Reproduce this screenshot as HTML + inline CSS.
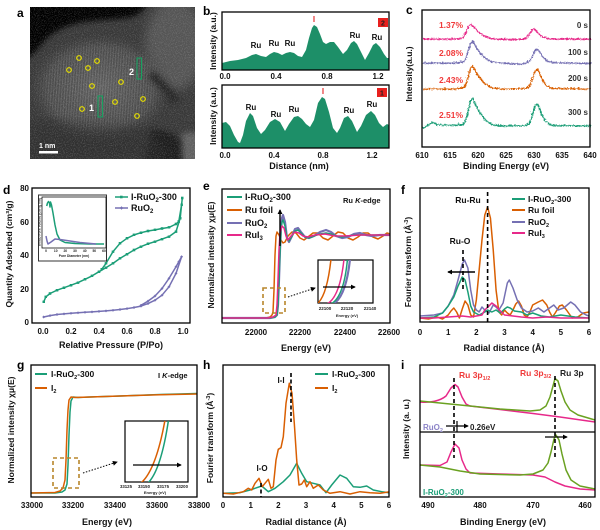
<!DOCTYPE html>
<html><head><meta charset="utf-8"><style>
html,body{margin:0;padding:0;background:#fff;}
svg{display:block;font-family:"Liberation Sans",Arial,sans-serif;font-weight:bold;}
.ax{fill:none;stroke:#000;stroke-width:1.3;}
.tk{font-size:8px;fill:#111;}
.tt{font-size:9px;fill:#111;}
.lt{font-size:12px;fill:#000;}
.ln{fill:none;stroke-width:1.5;stroke-linejoin:round;}
.ns{vector-effect:non-scaling-stroke;}
</style></head><body>
<svg width="600" height="530" viewBox="0 0 600 530" xmlns="http://www.w3.org/2000/svg">
<defs>
 <radialGradient id="gb" cx="0.5" cy="0.5" r="0.5"><stop offset="0" stop-color="#5c5c5c"/><stop offset="0.75" stop-color="#4e4e4e" stop-opacity="0.7"/><stop offset="1" stop-color="#3a3a3a" stop-opacity="0"/></radialGradient>
 <radialGradient id="gm" cx="0.5" cy="0.5" r="0.5"><stop offset="0" stop-color="#fff"/><stop offset="0.7" stop-color="#fff" stop-opacity="0.8"/><stop offset="1" stop-color="#fff" stop-opacity="0"/></radialGradient>
 <mask id="lm"><ellipse cx="100" cy="88" rx="72" ry="55" fill="url(#gm)"/></mask>
 <pattern id="lat" width="2.7" height="4" patternUnits="userSpaceOnUse" patternTransform="rotate(4)"><rect width="1.1" height="4" fill="#bdbdbd"/></pattern>
 <filter id="blur3"><feGaussianBlur stdDeviation="3"/></filter>
 <filter id="blur5"><feGaussianBlur stdDeviation="5"/></filter>
 <filter id="noise" x="0" y="0" width="1" height="1"><feTurbulence type="fractalNoise" baseFrequency="0.9" numOctaves="2" seed="3"/><feColorMatrix type="matrix" values="0 0 0 0 0.55  0 0 0 0 0.55  0 0 0 0 0.55  0 0 0 1.5 -0.7"/></filter>
 <filter id="jit" x="-5%" y="-30%" width="110%" height="160%"><feTurbulence type="turbulence" baseFrequency="0.45" numOctaves="1" seed="7" result="t"/><feDisplacementMap in="SourceGraphic" in2="t" scale="3" xChannelSelector="R" yChannelSelector="G"/></filter>
 <clipPath id="ca"><rect x="30" y="7" width="165" height="152"/></clipPath>
 <clipPath id="cf"><rect x="420" y="188" width="169" height="134"/></clipPath>
 <clipPath id="ch"><rect x="223" y="365" width="166" height="132"/></clipPath>
 <clipPath id="cei"><rect x="318" y="260" width="55" height="43"/></clipPath>
 <clipPath id="cgi"><rect x="125" y="421" width="63" height="61"/></clipPath>
 <marker id="mg" viewBox="0 0 4 4" refX="2" refY="2" markerWidth="2.6" markerHeight="2.6" markerUnits="userSpaceOnUse"><rect width="4" height="4" fill="#1b9e77"/></marker>
 <marker id="mp" viewBox="0 0 4 4" refX="2" refY="2" markerWidth="3" markerHeight="3" markerUnits="userSpaceOnUse"><path d="M2,0 L4,2 L2,4 L0,2Z" fill="#7570b3"/></marker>
 <marker id="ah" viewBox="0 0 6 6" refX="5" refY="3" markerWidth="5" markerHeight="5" markerUnits="userSpaceOnUse" orient="auto"><path d="M0,0 L6,3 L0,6Z" fill="#000"/></marker>
</defs>

<!-- ================= Panel a ================= -->
<text class="lt" x="17" y="17">a</text>
<g clip-path="url(#ca)">
 <rect x="30" y="7" width="165" height="152" fill="#383838"/>
 <ellipse cx="175" cy="45" rx="30" ry="45" fill="#545454" filter="url(#blur5)"/>
 <ellipse cx="190" cy="148" rx="14" ry="16" fill="#606060" filter="url(#blur3)"/>
 <ellipse cx="100" cy="88" rx="72" ry="55" fill="url(#gb)"/>
 <rect x="25" y="7" width="175" height="155" fill="url(#lat)" opacity="0.22" mask="url(#lm)"/>
 <path d="M152,70 C162,78 172,88 180,100 L172,104 C164,92 156,84 148,78Z" fill="#262626" filter="url(#blur3)"/>
 <path d="M20,0 L148,0 C145,10 138,16 128,18 C110,20 90,20 75,24 C60,28 50,34 42,44 C36,52 30,58 20,62 Z" fill="#050505" filter="url(#blur3)"/>
 <path d="M150,130 C160,128 172,132 182,140 L182,165 L145,165Z" fill="#1e1e1e" filter="url(#blur3)"/>
 <path d="M25,122 C60,118 95,128 130,126 C150,125 160,135 170,165 L25,165Z" fill="#2c2c2c" opacity="0.5" filter="url(#blur5)"/>
 <rect x="30" y="7" width="165" height="152" filter="url(#noise)" opacity="0.55"/>
 <g fill="none" stroke="#e8e000" stroke-width="1.2">
  <circle cx="79" cy="58" r="2.3"/><circle cx="97" cy="61" r="2.3"/><circle cx="69" cy="70" r="2.3"/>
  <circle cx="88" cy="68" r="2.3"/><circle cx="121" cy="82" r="2.3"/><circle cx="92" cy="86" r="2.3"/>
  <circle cx="143" cy="99" r="2.3"/><circle cx="115" cy="102" r="2.3"/><circle cx="82" cy="109" r="2.3"/>
  <circle cx="137" cy="116" r="2.3"/>
 </g>
 <rect x="137" y="58" width="4.5" height="21" fill="none" stroke="#18a060" stroke-width="1.1"/>
 <rect x="98" y="96" width="4.5" height="21" fill="none" stroke="#18a060" stroke-width="1.1"/>
 <text x="129" y="75" font-size="9" fill="#fff">2</text>
 <text x="89" y="111" font-size="9" fill="#fff">1</text>
 <text x="39" y="148" font-size="7" fill="#fff">1 nm</text>
 <rect x="39" y="151" width="19" height="2.5" fill="#fff"/>
</g>

<!-- ================= Panel b ================= -->
<text class="lt" x="203" y="15">b</text>
<path fill="#1d8f68" d="M222,70 L222,63 L230,61 L238,60 L246,58 L252,55 L256,54 L261,56 L266,57 L270,54 L274,52 L278,53 L282,55 L286,53 L290,52 L294,53 L298,56 L302,57 L306,50 L309,38 L312,28 L314,25 L317,27 L320,34 L323,42 L326,44 L330,42 L334,42 L338,47 L343,54 L347,50 L351,43 L354,41 L357,44 L361,52 L365,60 L369,53 L373,45 L376,43 L380,47 L384,54 L387,58 L389,58 L389,70 Z"/>
<path fill="#1d8f68" d="M222,148 L222,123 L226,122 L230,126 L234,135 L238,142 L240,143 L243,135 L246,121 L250,113 L253,116 L257,128 L261,134 L265,130 L270,122 L275,119 L280,122 L285,131 L289,124 L294,117 L298,116 L302,119 L306,124 L310,127 L314,120 L318,103 L322,97 L325,99 L329,112 L333,128 L337,133 L340,128 L344,118 L348,116 L352,121 L357,132 L361,126 L366,115 L371,111 L375,115 L379,123 L383,127 L387,124 L389,125 L389,148 Z"/>
<rect class="ax" x="222" y="12" width="167" height="58"/>
<rect class="ax" x="222" y="85" width="167" height="63"/>
<g font-size="8" fill="#111" text-anchor="middle">
 <text x="256" y="48">Ru</text><text x="274" y="46">Ru</text><text x="290" y="46">Ru</text>
 <text x="355" y="38">Ru</text><text x="377" y="40">Ru</text>
 <text x="251" y="110">Ru</text><text x="276" y="117">Ru</text><text x="294" y="112">Ru</text>
 <text x="349" y="113">Ru</text><text x="372" y="107">Ru</text>
 <text x="314" y="22" fill="#e53030">I</text><text x="323" y="94" fill="#e53030">I</text>
</g>
<rect x="378" y="18" width="10" height="9" fill="#e8201e"/><text x="383" y="25.5" font-size="7" text-anchor="middle" fill="#222">2</text>
<rect x="377" y="88" width="10" height="9" fill="#e8201e"/><text x="382" y="95.5" font-size="7" text-anchor="middle" fill="#222">1</text>
<g class="tk" text-anchor="middle">
 <text x="225" y="79">0.0</text><text x="276" y="79">0.4</text><text x="327" y="79">0.8</text><text x="378" y="79">1.2</text>
 <text x="225" y="158">0.0</text><text x="274" y="158">0.4</text><text x="323" y="158">0.8</text><text x="372" y="158">1.2</text>
</g>
<text class="tt" x="299" y="169" text-anchor="middle">Distance (nm)</text>
<text font-size="8.5" fill="#111" transform="rotate(-90 216 41)" x="216" y="41" text-anchor="middle">Intensity (a.u.)</text>
<text font-size="8.5" fill="#111" transform="rotate(-90 216 116)" x="216" y="116" text-anchor="middle">Intensity (a.u.)</text>

<!-- ================= Panel c ================= -->
<text class="lt" x="406" y="14">c</text>
<g class="ln" stroke-width="1.3" filter="url(#jit)">
 <polyline stroke="#e7298a" points="422,38 440,38 455,38 460,37.2 462,36.5 464,33.5 466,29 468,24.5 470,23 472,25.3 474,27.5 476,29.8 479,32 482,34.3 486,36.2 490,37.2 494,38 510,38.5 521,38.3 525,37 527,35 529,32 531,29 533,28 535,29.5 537,32 539,34 542,36 545,37 549,37.7 560,38 590,38"/>
 <polyline stroke="#7570b3" points="422,62 455,62 461.5,61 463.5,59.8 465.5,55.4 467.5,48.8 469.5,42.2 471.5,40 473.5,43.3 475.5,46.6 477.5,49.9 480.5,53.2 483.5,56.5 487.5,59.4 491.5,60.9 500,62 520,63 524,62.5 528,60.6 530,57.8 532,53.6 534,49.4 536,48 538,50.1 540,53.6 542,56.4 545,59.2 548,60.6 552,61.6 590,62.5"/>
 <polyline stroke="#d95f02" points="422,88 455,88 461.5,86.9 463.5,85.7 465.5,81.1 467.5,74.2 469.5,67.3 471.5,65 473.5,68.5 475.5,71.9 477.5,75.4 480.5,78.8 483.5,82.3 487.5,85.2 491.5,86.9 500,88 524,87.6 528,86 530,82 532,76 534,70 536,68 538,71 540,76 542,80 545,84 548,86 552,87.4 590,88"/>
 <polyline stroke="#1b9e77" points="422,127 432,121 436,124 455,124 461.5,123.6 463.5,122.2 465.5,116.6 467.5,108.2 469.5,99.8 471.5,97 473.5,101.2 475.5,105.4 477.5,109.6 480.5,113.8 483.5,118 487.5,121.6 491.5,123.6 500,125 524,124.6 528,122.8 530,118.4 532,111.8 534,105.2 536,103 538,106.3 540,111.8 542,116.2 545,120.6 548,122.8 552,124.4 590,125"/>
</g>
<rect class="ax" x="422" y="10" width="168" height="137"/>
<g font-size="8.5" fill="#f03a3a" text-anchor="middle">
 <text x="451" y="28">1.37%</text><text x="451" y="56">2.08%</text><text x="451" y="83">2.43%</text><text x="451" y="118">2.51%</text>
</g>
<g font-size="8" fill="#333" text-anchor="end">
 <text x="588" y="28">0 s</text><text x="588" y="55">100 s</text><text x="588" y="81">200 s</text><text x="588" y="115">300 s</text>
</g>
<g class="tk" text-anchor="middle">
 <text x="422" y="158">610</text><text x="450" y="158">615</text><text x="478" y="158">620</text><text x="506" y="158">625</text><text x="534" y="158">630</text><text x="562" y="158">635</text><text x="590" y="158">640</text>
</g>
<text class="tt" x="506" y="169" text-anchor="middle">Binding Energy (eV)</text>
<text font-size="8.5" fill="#111" transform="rotate(-90 412 74)" x="412" y="74" text-anchor="middle">Intensity(a.u.)</text>

<!-- ================= Panel d ================= -->
<text class="lt" x="3" y="194">d</text>
<rect class="ax" x="32" y="188" width="158" height="135"/>
<polyline class="ln" stroke="#1b9e77" stroke-width="1.4" marker-start="url(#mg)" marker-mid="url(#mg)" marker-end="url(#mg)" points="43.7,301.9 45.8,296.9 50,293.5 57,290.2 64,287.7 71,285.2 78,282.6 85,279.3 92,275.9 99,271.7 106,267.6 113,263.4 120,258.4 127,254.2 134,250 141,246.6 148,243.8 155,241.6 162,239.1 169,236.6 176,231.6 180.2,218.2 182.3,198 181.6,204.8 178.8,221.5 176,224 169,227.4 162,228.5 155,229.9 148,231 141,232.7 134,234.9 127,238.3 120,243.3 113,251.6 106,263.4 101.8,269.2"/>
<polyline class="ln" stroke="#7570b3" stroke-width="1.4" marker-start="url(#mp)" marker-mid="url(#mp)" marker-end="url(#mp)" points="43.7,317 50,315.6 57,314.5 64,313.9 71,313.3 78,312.8 85,312.3 92,311.9 99,311.4 106,310.9 113,310.3 120,309.5 127,308.6 134,307.5 141,306.1 148,303.6 155,300.2 162,295.2 169,286.8 176,273.4 181.6,256.7 178.8,261.7 176,266.7 169,278.4 162,288.5 155,296 148,301.1 141,305.3"/>
<line x1="115" y1="197" x2="128" y2="197" stroke="#1b9e77" stroke-width="1.5"/><rect x="120" y="195.7" width="2.6" height="2.6" fill="#1b9e77"/>
<text x="131" y="200" font-size="9" fill="#111">I-RuO<tspan font-size="6" dy="2">2</tspan><tspan dy="-2">-300</tspan></text>
<line x1="115" y1="208" x2="128" y2="208" stroke="#7570b3" stroke-width="1.5"/><path d="M121.5,206.3 L123.2,208 L121.5,209.7 L119.8,208Z" fill="#7570b3"/>
<text x="131" y="211" font-size="9" fill="#111">RuO<tspan font-size="6" dy="2">2</tspan></text>
<!-- inset -->
<rect x="38.5" y="195" width="68" height="66" fill="#fff" stroke="#333" stroke-width="1"/>
<rect x="42" y="197" width="64" height="51" fill="none" stroke="#111" stroke-width="0.8"/>
<polyline class="ln" stroke="#1b9e77" stroke-width="1.1" points="46.7,206 47.5,203 48.5,201.5 49.5,203 50,207 50.5,202 51.5,205 53,213 55,225 57,234 60,240 65,242.5 75,243.5 90,244 104,244"/>
<polyline class="ln" stroke="#7570b3" stroke-width="1.1" points="46,236 47,241 48,244 51,242 55,239 60,239.5 70,241 80,242.5 96,244"/>
<g font-size="3.3" fill="#222" text-anchor="middle">
 <text x="46" y="252">0</text><text x="55.7" y="252">10</text><text x="65.3" y="252">20</text><text x="75" y="252">30</text><text x="84.7" y="252">40</text><text x="94.3" y="252">50</text><text x="104" y="252">60</text>
 <text x="74" y="257">Pore Diameter (nm)</text>
 <text transform="rotate(-90 40.3 222)" x="40.3" y="222">dV/dD Pore Volume (cm³/g nm)</text>
</g>
<g class="tk" text-anchor="end">
 <text x="29" y="191">80</text><text x="29" y="225">60</text><text x="29" y="258">40</text><text x="29" y="292">20</text><text x="29" y="325">0</text>
</g>
<g class="tk" text-anchor="middle">
 <text x="43" y="334">0.0</text><text x="71" y="334">0.2</text><text x="99" y="334">0.4</text><text x="127" y="334">0.6</text><text x="155" y="334">0.8</text><text x="183" y="334">1.0</text>
</g>
<text class="tt" x="111" y="348" text-anchor="middle">Relative Pressure (P/Po)</text>
<text font-size="8.5" fill="#111" transform="rotate(-90 12 254)" x="12" y="254" text-anchor="middle">Quantity Adsorbed (cm³/g)</text>

<!-- ================= Panel e ================= -->
<text class="lt" x="203" y="190">e</text>
<g class="ln">
 <path stroke="#d95f02" d="M222,318 L266,318 L270,317 L272,315 L273,312 L274,290 L275,255 L276,236 L277,232 L279,235 L281,240 L283,243 L285,242 L288,236 L292,232 L296,233 L300,238 L304,240 L308,237 L313,233 L318,233 L323,238 L328,240 L333,236 L338,232 L343,233 L348,238 L353,240 L358,237 L363,233 L368,233 L373,237 L378,239 L383,236 L387,233 L390,234"/>
 <path stroke="#7570b3" stroke-width="2.2" d="M222,318 L270,318 L275,317 L277,315 L278,305 L279,280 L280,250 L281,228 L282,218 L283,215 L285,222 L287,238 L289,242 L292,236 L295,229 L298,228 L301,232 L305,237 L309,238 L314,236 L320,232 L326,230 L331,232 L336,236 L342,238 L348,237 L354,234 L360,233 L366,235 L372,236 L380,235 L390,235"/>
 <path stroke="#1b9e77" d="M222,318 L270,318 L275,317 L277,315 L278,305 L279,280 L280,252 L281,231 L282,222 L283,220 L285,226 L287,238 L289,241 L292,236 L295,231 L298,230 L301,233 L305,237 L309,238 L314,236 L320,234 L326,233 L331,234 L336,236 L342,237 L348,236 L354,235 L366,235 L390,235"/>
 <path stroke="#e7298a" d="M222,318 L268,318 L273,317 L276,315 L277,305 L278,280 L279,250 L280,233 L282,226 L284,228 L286,236 L288,240 L291,236 L295,232 L299,233 L303,236 L308,237 L315,235 L325,234 L335,236 L345,236 L360,235 L375,235 L390,235"/>
</g>
<line x1="280" y1="246" x2="280" y2="210" stroke="#000" stroke-width="1.4" marker-end="url(#ah)"/>
<rect x="263" y="288" width="22" height="25" fill="none" stroke="#b8862b" stroke-width="1.6" stroke-dasharray="4,3"/>
<line x1="288" y1="297" x2="315" y2="288" stroke="#000" stroke-width="1" stroke-dasharray="1.5,1.5" marker-end="url(#ah)"/>
<rect x="318" y="260" width="55" height="43" fill="#fff" stroke="#000" stroke-width="1.2"/>
<g clip-path="url(#cei)" class="ln">
 <path stroke="#d95f02" d="M317,304 Q327,296 331,259"/>
 <path stroke="#e7298a" d="M327,304 Q340,297 344,259"/>
 <path stroke="#7570b3" stroke-width="2.2" d="M333,304 Q346,297 350,259"/>
 <path stroke="#1b9e77" d="M331,304 Q344,297 347.5,259"/>
</g>
<line x1="323" y1="287" x2="355" y2="287" stroke="#000" stroke-width="1.3" marker-end="url(#ah)"/>
<g font-size="4.5" fill="#222" text-anchor="middle">
 <text x="325" y="310">22100</text><text x="347" y="310">22120</text><text x="370" y="310">22140</text>
 <text x="347" y="317" font-size="4">Energy (eV)</text>
</g>
<rect class="ax" x="222" y="189" width="168" height="134"/>
<line x1="227" y1="197" x2="242" y2="197" stroke="#1b9e77" stroke-width="2"/>
<line x1="227" y1="210" x2="242" y2="210" stroke="#d95f02" stroke-width="2"/>
<line x1="227" y1="223" x2="242" y2="223" stroke="#7570b3" stroke-width="2"/>
<line x1="227" y1="235" x2="242" y2="235" stroke="#e7298a" stroke-width="2"/>
<g font-size="9" fill="#111">
 <text x="245" y="200">I-RuO<tspan font-size="6" dy="2">2</tspan><tspan dy="-2">-300</tspan></text>
 <text x="245" y="213">Ru foil</text>
 <text x="245" y="226">RuO<tspan font-size="6" dy="2">2</tspan></text>
 <text x="245" y="238">RuI<tspan font-size="6" dy="2">3</tspan></text>
</g>
<text x="343" y="203" font-size="7.5" fill="#111">Ru <tspan font-style="italic">K</tspan>-edge</text>
<g class="tk" text-anchor="middle">
 <text x="256" y="335">22000</text><text x="300" y="335">22200</text><text x="345" y="335">22400</text><text x="389" y="335">22600</text>
</g>
<text class="tt" x="306" y="351" text-anchor="middle">Energy (eV)</text>
<text font-size="8.5" fill="#111" transform="rotate(-90 214 255)" x="214" y="255" text-anchor="middle">Normalized intensity χμ(E)</text>

<!-- ================= Panel f ================= -->
<text class="lt" x="401" y="194">f</text>
<g clip-path="url(#cf)">
<g transform="translate(420 0) scale(28.17 1)" class="ln">
 <path class="ns" stroke="#d95f02" d="M0,318 L0.3,319 L0.6,317 L0.8,319 L1.0,315 L1.1,311 L1.2,308 L1.3,312 L1.4,318 L1.5,309 L1.6,301 L1.7,305 L1.8,315 L1.9,317 L2.0,300 L2.1,270 L2.2,240 L2.3,215 L2.4,207 L2.5,218 L2.6,250 L2.7,290 L2.8,312 L2.9,315 L3.0,310 L3.1,313 L3.2,315 L3.3,310 L3.4,304 L3.5,301 L3.6,306 L3.7,315 L3.8,317 L3.9,312 L4.0,305 L4.2,302 L4.35,300 L4.5,305 L4.6,312 L4.7,317 L4.8,313 L4.95,306 L5.05,305 L5.2,310 L5.4,318 L5.6,317 L5.8,313 L6.0,312"/>
 <path class="ns" stroke="#7570b3" d="M0,316 L0.5,315 L0.8,313 L1.0,306 L1.2,295 L1.35,280 L1.5,264 L1.58,260 L1.7,268 L1.8,290 L1.9,305 L2.0,310 L2.1,312 L2.2,307 L2.3,310 L2.45,313 L2.6,305 L2.7,307 L2.8,310 L2.95,303 L3.1,283 L3.17,280 L3.3,288 L3.45,300 L3.6,308 L3.8,312 L4.0,311 L4.2,308 L4.4,312 L4.6,308 L4.75,305 L4.9,310 L5.1,308 L5.35,302 L5.5,305 L5.7,312 L5.9,315 L6.0,316"/>
 <path class="ns" stroke="#1b9e77" d="M0,318 L0.5,317 L0.8,313 L1.0,306 L1.2,297 L1.35,286 L1.5,277 L1.6,280 L1.7,292 L1.8,306 L1.9,312 L2.1,315 L2.3,312 L2.4,310 L2.55,312 L2.7,310 L2.85,313 L3.0,309 L3.1,307 L3.2,308 L3.35,311 L3.6,312 L3.8,315 L4.0,313 L4.3,316 L4.6,317 L5.0,315 L5.5,317 L6.0,318"/>
 <path class="ns" stroke="#e7298a" d="M0,318 L0.5,318 L1.0,317 L1.5,316 L1.8,317 L2.0,316 L2.2,315 L2.3,310 L2.45,306 L2.55,303 L2.7,306 L2.85,311 L3.0,315 L3.3,316 L3.6,317 L4.0,318 L4.5,317 L5,318 L6,318"/>
</g>
</g>
<line x1="487.6" y1="192" x2="487.6" y2="322" stroke="#000" stroke-width="1.6" stroke-dasharray="4,3"/>
<line x1="463" y1="250" x2="463" y2="290" stroke="#000" stroke-width="1.6" stroke-dasharray="4,3"/>
<line x1="475" y1="272" x2="448" y2="272" stroke="#000" stroke-width="1.4" marker-end="url(#ah)"/>
<text x="468" y="203" font-size="8.5" fill="#111" text-anchor="middle">Ru-Ru</text>
<text x="460" y="244" font-size="8.5" fill="#111" text-anchor="middle">Ru-O</text>
<rect class="ax" x="420" y="188" width="169" height="134"/>
<line x1="512" y1="199" x2="525" y2="199" stroke="#1b9e77" stroke-width="2"/>
<line x1="512" y1="210" x2="525" y2="210" stroke="#d95f02" stroke-width="2"/>
<line x1="512" y1="222" x2="525" y2="222" stroke="#7570b3" stroke-width="2"/>
<line x1="512" y1="233" x2="525" y2="233" stroke="#e7298a" stroke-width="2"/>
<g font-size="8.5" fill="#111">
 <text x="528" y="202">I-RuO<tspan font-size="5.5" dy="2">2</tspan><tspan dy="-2">-300</tspan></text>
 <text x="528" y="213">Ru foil</text>
 <text x="528" y="225">RuO<tspan font-size="5.5" dy="2">2</tspan></text>
 <text x="528" y="236">RuI<tspan font-size="5.5" dy="2">3</tspan></text>
</g>
<g class="tk" text-anchor="middle">
 <text x="420" y="335">0</text><text x="448.2" y="335">1</text><text x="476.3" y="335">2</text><text x="504.5" y="335">3</text><text x="532.7" y="335">4</text><text x="560.8" y="335">5</text><text x="589" y="335">6</text>
</g>
<text class="tt" x="504" y="351" text-anchor="middle">Radial distance (Å)</text>
<text font-size="8.5" fill="#111" transform="rotate(-90 411 262)" x="411" y="262" text-anchor="middle">Fourier transform (Å<tspan font-size="5.5" dy="-3">-3</tspan><tspan dy="3">)</tspan></text>

<!-- ================= Panel g ================= -->
<text class="lt" x="17" y="369">g</text>
<g class="ln">
 <path stroke="#1b9e77" d="M31,493 L55,493 L62,492 L65,490 L67,484 L68,465 L69,435 L70,412 L71,401 L73,397 L78,397.5 L90,397 L120,396 L160,394.5 L197,393.5"/>
 <path stroke="#d95f02" d="M31,493 L55,492.5 L60,491 L63,488 L65,480 L66,460 L67,430 L68,410 L69,400 L71,397 L75,397.5 L90,397 L120,396 L160,394.8 L197,394"/>
</g>
<rect x="53" y="458" width="26" height="30" fill="none" stroke="#b8862b" stroke-width="1.6" stroke-dasharray="4,3"/>
<line x1="83" y1="473" x2="117" y2="462" stroke="#000" stroke-width="1" stroke-dasharray="1.5,1.5" marker-end="url(#ah)"/>
<rect x="125" y="421" width="63" height="61" fill="#fff" stroke="#000" stroke-width="1.2"/>
<g clip-path="url(#cgi)" class="ln">
 <path stroke="#d95f02" d="M141,483 Q156,470 165,420"/>
 <path stroke="#1b9e77" d="M148,483 Q161,470 168.5,420"/>
</g>
<line x1="133" y1="465" x2="181" y2="465" stroke="#000" stroke-width="1.3" marker-end="url(#ah)"/>
<g font-size="4.3" fill="#222" text-anchor="middle">
 <text x="126" y="488">33125</text><text x="144" y="488">33150</text><text x="163" y="488">33175</text><text x="182" y="488">33200</text>
 <text x="155" y="494" font-size="4">Energy (eV)</text>
</g>
<rect class="ax" x="31" y="365" width="166" height="132"/>
<line x1="35" y1="374" x2="47" y2="374" stroke="#1b9e77" stroke-width="2"/>
<line x1="35" y1="388" x2="47" y2="388" stroke="#d95f02" stroke-width="2"/>
<text x="51" y="377" font-size="8.5" fill="#111">I-RuO<tspan font-size="5.5" dy="2">2</tspan><tspan dy="-2">-300</tspan></text>
<text x="51" y="391" font-size="8.5" fill="#111">I<tspan font-size="5.5" dy="2">2</tspan></text>
<text x="158" y="378" font-size="7.5" fill="#111">I <tspan font-style="italic">K</tspan>-edge</text>
<g class="tk" text-anchor="middle">
 <text x="32" y="508">33000</text><text x="73" y="508">33200</text><text x="115" y="508">33400</text><text x="157" y="508">33600</text><text x="199" y="508">33800</text>
</g>
<text class="tt" x="107" y="525" text-anchor="middle">Energy (eV)</text>
<text font-size="8.5" fill="#111" transform="rotate(-90 14 430)" x="14" y="430" text-anchor="middle">Normalized intensity χμ(E)</text>

<!-- ================= Panel h ================= -->
<text class="lt" x="203" y="369">h</text>
<g clip-path="url(#ch)" class="ln">
 <polyline stroke="#1b9e77" points="223.3,493.3 240,492.7 250,490 261.7,486 268.3,491.7 275,488.3 283.3,481.7 290,475 296.7,463.3 301.7,473.3 306.7,481.7 313.3,483.3 320,485 326,492.7 331.7,485 340,475 346.7,478.3 353.3,486.7 360,487.3 366.7,486 373.3,490 381.7,491.7 389,492.7"/>
 <polyline stroke="#d95f02" points="223.3,493.3 233.3,494 243.3,491.7 248.3,488.3 251.7,490 255,483.3 259,478.3 262.3,486.7 265,483.3 268.3,479.3 271,488.3 273.3,486.7 276,460 278.3,449.3 281,447.7 283.3,436.7 286,403.3 289.3,383.3 292,393.3 294.3,423.3 296.7,460 299,485 301.7,484 304.3,480 306.7,486.7 310,481.7 313.3,488.3 318.3,485 323.3,490 330,493.3 340,491.7 350,494 360,491.7 370,492.7 380,493.3 390,491.7"/>
</g>
<line x1="291" y1="373" x2="291" y2="422" stroke="#000" stroke-width="1.6" stroke-dasharray="4,2.5"/>
<line x1="261" y1="483" x2="261" y2="497" stroke="#000" stroke-width="1.6" stroke-dasharray="4,2.5"/>
<text x="281" y="383" font-size="8" fill="#111" text-anchor="middle">I-I</text>
<text x="262" y="471" font-size="8" fill="#111" text-anchor="middle">I-O</text>
<rect class="ax" x="223" y="365" width="166" height="132"/>
<line x1="315" y1="374" x2="328" y2="374" stroke="#1b9e77" stroke-width="2"/>
<line x1="315" y1="388" x2="328" y2="388" stroke="#d95f02" stroke-width="2"/>
<text x="332" y="377" font-size="8.5" fill="#111">I-RuO<tspan font-size="5.5" dy="2">2</tspan><tspan dy="-2">-300</tspan></text>
<text x="332" y="391" font-size="8.5" fill="#111">I<tspan font-size="5.5" dy="2">2</tspan></text>
<g class="tk" text-anchor="middle">
 <text x="223" y="508">0</text><text x="250.7" y="508">1</text><text x="278.3" y="508">2</text><text x="306" y="508">3</text><text x="333.7" y="508">4</text><text x="361.3" y="508">5</text><text x="389" y="508">6</text>
</g>
<text class="tt" x="306" y="525" text-anchor="middle">Radial distance (Å)</text>
<text font-size="8.5" fill="#111" transform="rotate(-90 213 438)" x="213" y="438" text-anchor="middle">Fourier transform (Å<tspan font-size="5.5" dy="-3">-3</tspan><tspan dy="3">)</tspan></text>

<!-- ================= Panel i ================= -->
<text class="lt" x="401" y="369">i</text>
<g class="ln" stroke-width="1.6">
 <path stroke="#e7298a" d="M420,402 C430,403 440,401 446,396 L451,388 L455,384.5 L458,387 L462,397 L466,404 L470,406 L500,409.5 L533,413.5 L560,417 L595,422"/>
 <path stroke="#6aa121" d="M420,401 L440,403 L470,406 L500,409 L530,411 L540,410 L546,406 L550,397 L553,386 L555,378.5 L558,381 L561,391 L565,402 L570,410 L578,415 L595,420"/>
 <path stroke="#e7298a" d="M420,465 L440,465.5 L447,462 L451,452 L455,444 L459,448 L462,460 L466,469 L470,473 L500,474 L533,475 L545,477 L555,482 L565,486 L580,489 L595,490"/>
 <path stroke="#6aa121" d="M420,465 L440,467 L460,471 L480,474 L520,475 L533,474 L543,470 L548,463 L551,452 L554,439 L556,435 L559,440 L562,454 L566,470 L571,480 L580,486 L595,489"/>
</g>
<line x1="454" y1="378" x2="454" y2="458" stroke="#000" stroke-width="1.6" stroke-dasharray="4,3"/>
<line x1="555" y1="376" x2="555" y2="458" stroke="#000" stroke-width="1.6" stroke-dasharray="4,3"/>
<line x1="420" y1="432" x2="595" y2="432" stroke="#000" stroke-width="1.2"/>
<line x1="446" y1="426" x2="468" y2="426" stroke="#000" stroke-width="1.2" marker-end="url(#ah)"/>
<line x1="457" y1="421" x2="457" y2="432" stroke="#000" stroke-width="1.2"/>
<line x1="545" y1="437" x2="567" y2="437" stroke="#000" stroke-width="1.2" marker-end="url(#ah)"/>
<rect class="ax" x="420" y="365" width="175" height="132"/>
<text x="459" y="378" font-size="8.5" fill="#f03a3a">Ru 3p<tspan font-size="5.5" dy="2">1/2</tspan></text>
<text x="520" y="376" font-size="8.5" fill="#f03a3a">Ru 3p<tspan font-size="5.5" dy="2">3/2</tspan></text>
<text x="560" y="376" font-size="8.5" fill="#222">Ru 3p</text>
<text x="423" y="430" font-size="8" fill="#8c84c8">RuO<tspan font-size="5.5" dy="2">2</tspan></text>
<text x="470" y="430" font-size="8" fill="#222">0.26eV</text>
<text x="423" y="495" font-size="8" fill="#1b9e77">I-RuO<tspan font-size="5.5" dy="2">2</tspan><tspan dy="-2">-300</tspan></text>
<g class="tk" text-anchor="middle">
 <text x="428" y="508">490</text><text x="480" y="508">480</text><text x="533" y="508">470</text><text x="585" y="508">460</text>
</g>
<text class="tt" x="503" y="525" text-anchor="middle">Binding Energy (eV)</text>
<text font-size="8.5" fill="#111" transform="rotate(-90 409 429)" x="409" y="429" text-anchor="middle">Intensity (a. u.)</text>
</svg>
</body></html>
